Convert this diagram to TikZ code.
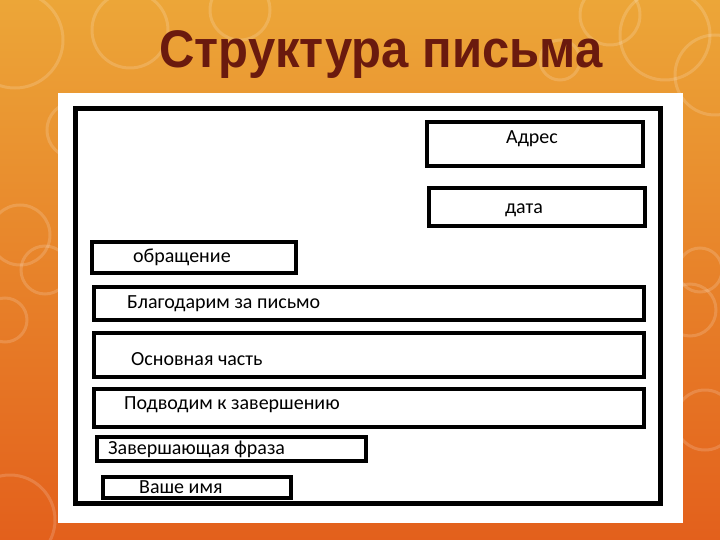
\documentclass[tikz,border=0pt]{standalone}
\usepackage{fontspec}
\setmainfont{Carlito}
\newfontfamily\titlefont{Liberation Sans}
\usetikzlibrary{positioning}
\definecolor{bgtop}{RGB}{236,166,56}
\definecolor{bgbot}{RGB}{227,96,28}
\definecolor{titlered}{RGB}{106,26,14}
\tikzset{
  Box/.style = {
    draw,
    line width = 4pt,
    fill = white,
    inner sep = 0pt,
  },
  Txt/.style = {
    inner sep = 0pt,
    font = \fontsize{20}{20}\selectfont,
  },
  Ring/.style = {
    draw = white,
    line width = 3pt,
    opacity = 0.16,
  }
}

\begin{document}
\begin{tikzpicture}[x=1pt, y=-1pt]
      % background and rings
      \shade[top color=bgtop, bottom color=bgbot] (0,0) rectangle (720,540);
      \useasboundingbox (0,0) rectangle (720,540);
      \foreach \cx/\cy/\r in {15/40/48, 130/30/38, 75/130/28, 20/235/30, 45/270/24,
                              5/320/22, 10/520/45, 665/35/45, 715/75/40, 610/15/30,
                              700/270/22, 690/310/26, 705/420/30, 240/10/30, 560/60/20}
        \draw[Ring] (\cx,\cy) circle[radius=\r pt];
      \node[font=\titlefont\bfseries\fontsize{49}{49}\selectfont, text=titlered, anchor=base,
            yscale=1.08] (title) at (381,68) {Структура письма};
      % sheet
      \fill[white] (58,93) rectangle (683,523);
      \draw[line width=5pt] (75.5,108.5) rectangle (660.5,503.5);
      % parts of the letter
      \node[Box, minimum width=216pt, minimum height=44pt] (adres) at (535,144) {};
      \node[Box, minimum width=216pt, minimum height=38pt] (data) at (537,207) {};
      \node[Box, minimum width=204pt, minimum height=31pt] (obr) at (194,257.5) {};
      \node[Box, minimum width=550pt, minimum height=33pt] (blag) at (369,303.5) {};
      \node[Box, minimum width=550pt, minimum height=44pt] (osn) at (369,355) {};
      \node[Box, minimum width=550pt, minimum height=38pt] (podv) at (369,408) {};
      \node[Box, minimum width=269pt, minimum height=24pt] (zav) at (231.5,449) {};
      \node[Box, minimum width=188pt, minimum height=21pt] (imya) at (197,487.5) {};
      \node[Txt] (adrest) at ([xshift=-3pt, yshift=5pt]adres) {Адрес};
      \node[Txt] (datat) at ([xshift=-13pt, yshift=-3pt]data) {дата};
      \node[Txt, right=43pt of obr.west] (obrt) {обращение};
      \node[Txt, right=35pt of blag.west] (blagt) {Благодарим за письмо};
      \node[Txt, right=39pt of osn.west, yshift=-4pt] (osnt) {Основная часть};
      \node[Txt, right=32pt of podv.west, yshift=3pt] (podvt) {Подводим к завершению};
      \node[Txt, right=13pt of zav.west] (zavt) {Завершающая фраза};
      \node[Txt, right=38pt of imya.west] (imyat) {Ваше имя};
    \end{tikzpicture}
\end{document}
